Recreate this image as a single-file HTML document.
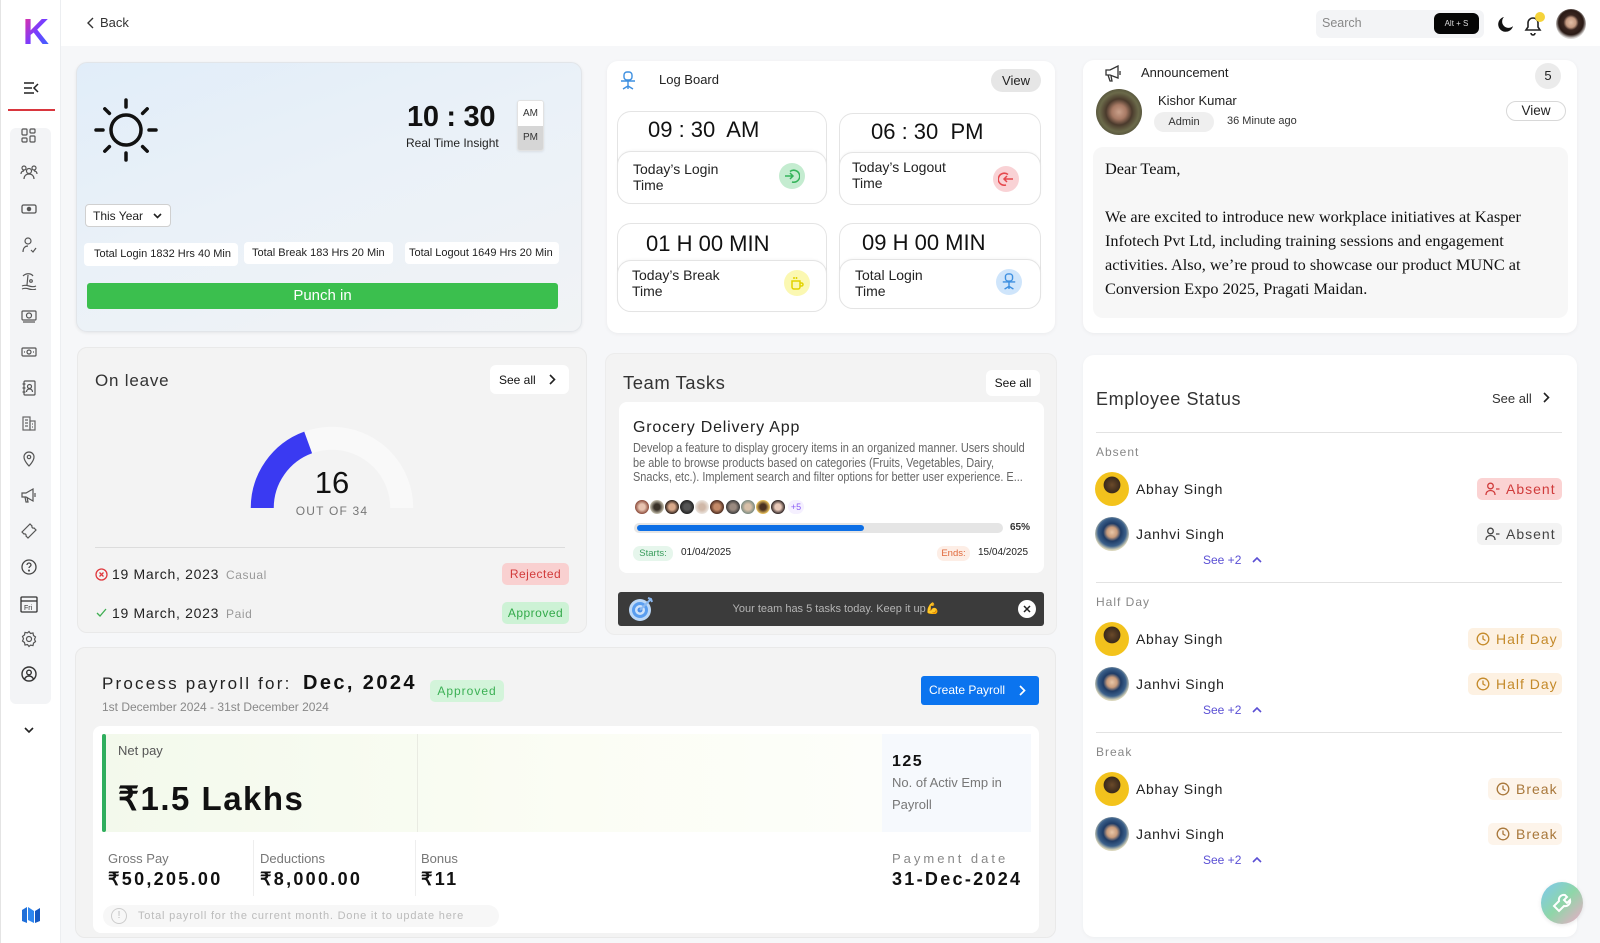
<!DOCTYPE html>
<html><head><meta charset="utf-8">
<style>
*{box-sizing:border-box;margin:0;padding:0}
body{width:1600px;height:943px;overflow:hidden;background:#f6f7f9;font-family:"Liberation Sans",sans-serif;color:#222;position:relative}
.a{position:absolute}
.t{position:absolute;white-space:nowrap;line-height:1}
.card{position:absolute;border-radius:11px}
.ic{position:absolute;left:20px;width:18px;height:18px}
.tile{position:absolute;background:#fff;border:1px solid #e4e4e4;border-radius:14px}
.tile .in{position:absolute;left:-1px;right:-1px;bottom:-1px;border:1px solid #e4e4e4;border-radius:14px;background:#fff;box-shadow:0 -1px 2px rgba(0,0,0,.03)}
.circ{position:absolute;width:26px;height:26px;border-radius:50%}
.pill{position:absolute;border-radius:5px;font-size:12px;text-align:center;letter-spacing:.5px}
.av{position:absolute;width:34px;height:34px;border-radius:50%;overflow:hidden}
.abhay{background:radial-gradient(circle at 50% 38%,#6b4a2a 0,#3a2a1c 30%,#f2c21d 32%,#f4c41c 100%)}
.janhvi{background:radial-gradient(circle at 50% 45%,#e9c7a8 0,#c99c7c 20%,#1f3c66 35%,#3a5f8a 55%,#d8d4b8 70%,#eef0f2 100%)}
.nm{position:absolute;font-size:14px;letter-spacing:.7px;color:#222;line-height:1}
.lbl{position:absolute;font-size:12px;letter-spacing:1px;color:#888;line-height:1}
.badge{position:absolute;height:22px;border-radius:5px;font-size:14px;letter-spacing:1px;line-height:22px;padding-left:8px}
.see{position:absolute;font-size:12px;color:#5a4fd4;line-height:1}
.div{position:absolute;height:1px;background:#e2e2e2}
</style></head><body>

<!-- Sidebar -->
<div class="a" style="left:0;top:0;width:61px;height:943px;background:#fff;border-right:1px solid #eceef1;border-left:1px solid #e4e4e4"></div>
<svg class="a" style="left:22px;top:15px" width="30" height="32" viewBox="0 0 30 32">
<defs><linearGradient id="kg" x1="0" y1="0" x2="1" y2="1"><stop offset="0" stop-color="#ff2d8a"/><stop offset=".5" stop-color="#7a3cff"/><stop offset="1" stop-color="#2f6bff"/></linearGradient></defs>
<text x="1" y="29" font-family="Liberation Sans" font-weight="bold" font-size="36" fill="url(#kg)">K</text></svg>
<svg class="a" style="left:23px;top:81px" width="17" height="14" viewBox="0 0 17 14" fill="none" stroke="#222" stroke-width="1.5"><path d="M1 2h10M1 7h8M1 12h10M15 3l-4 4 4 4"/></svg>
<div class="a" style="left:8px;top:109px;width:47px;height:2px;background:#d9363e"></div>
<div class="a" style="left:10px;top:128px;width:41px;height:576px;background:#f3f4f6;border-radius:6px"></div>

<svg class="ic" style="top:127px" viewBox="0 0 18 18" fill="none" stroke="#555" stroke-width="1.2"><rect x="2" y="2" width="5" height="6" rx="1"/><rect x="10" y="2" width="5" height="4" rx="1"/><rect x="2" y="11" width="5" height="4" rx="1"/><rect x="10" y="9" width="5" height="6" rx="1"/></svg>
<svg class="ic" style="top:163px" viewBox="0 0 18 18" fill="none" stroke="#555" stroke-width="1.2"><circle cx="9" cy="8" r="2.5"/><circle cx="4" cy="5" r="2"/><circle cx="14" cy="5" r="2"/><path d="M4 16c0-3 2-5 5-5s5 2 5 5M1 11c0-2 1-3 3-3M17 11c0-2-1-3-3-3"/></svg>
<svg class="ic" style="top:200px" viewBox="0 0 18 18" fill="none" stroke="#555" stroke-width="1.3"><rect x="2" y="5" width="14" height="8" rx="1.5"/><circle cx="9" cy="9" r="1.6" fill="#555"/></svg>
<svg class="ic" style="top:236px" viewBox="0 0 18 18" fill="none" stroke="#555" stroke-width="1.2"><circle cx="8" cy="5" r="3"/><path d="M3 16c0-4 2-6 5-6M11 14l2 2 3-4"/></svg>
<svg class="ic" style="top:272px" viewBox="0 0 18 18" fill="none" stroke="#555" stroke-width="1.2"><path d="M3 4c3-3 8-3 10 0M8 3l-1 10M2 14c2-1 4-1 7 0s5 1 7 0M2 17c2-1 4-1 7 0s5 1 7 0"/><circle cx="11" cy="9" r="1.3"/></svg>
<svg class="ic" style="top:307px" viewBox="0 0 18 18" fill="none" stroke="#555" stroke-width="1.2"><rect x="2" y="4" width="14" height="9" rx="1"/><circle cx="9" cy="8.5" r="2.5"/><path d="M3 15h12"/></svg>
<svg class="ic" style="top:343px" viewBox="0 0 18 18" fill="none" stroke="#555" stroke-width="1.2"><rect x="2" y="5" width="14" height="8" rx="1"/><circle cx="9" cy="9" r="2"/><path d="M4 9h1M13 9h1"/></svg>
<svg class="ic" style="top:379px" viewBox="0 0 18 18" fill="none" stroke="#555" stroke-width="1.2"><rect x="4" y="2" width="11" height="14" rx="1"/><circle cx="9.5" cy="7.5" r="2"/><path d="M6.5 13c0-2 1.5-3 3-3s3 1 3 3M2.5 5h3M2.5 9h3M2.5 13h3"/></svg>
<svg class="ic" style="top:414px" viewBox="0 0 18 18" fill="none" stroke="#666" stroke-width="1.2"><rect x="3" y="3" width="7" height="13"/><rect x="10" y="7" width="5" height="9"/><path d="M5 6h3M5 9h3M5 12h3M12 10h1M12 13h1"/></svg>
<svg class="ic" style="top:450px" viewBox="0 0 18 18" fill="none" stroke="#555" stroke-width="1.2"><path d="M9 16s-5-5-5-9a5 5 0 0110 0c0 4-5 9-5 9z"/><circle cx="9" cy="7" r="1.7"/></svg>
<svg class="ic" style="top:486px" viewBox="0 0 18 18" fill="none" stroke="#555" stroke-width="1.2"><path d="M2 7h4l7-4v12l-7-4H2zM5 11l1 5h2l-1-5M15 7v4"/></svg>
<svg class="ic" style="top:522px" viewBox="0 0 18 18" fill="none" stroke="#555" stroke-width="1.2"><path d="M2 10l8-8 2 2a1.5 1.5 0 002 2l2 2-8 8-2-2a1.5 1.5 0 00-2-2z"/></svg>
<svg class="ic" style="top:558px" viewBox="0 0 18 18" fill="none" stroke="#444" stroke-width="1.3"><circle cx="9" cy="9" r="7"/><path d="M7 7a2 2 0 114 0c0 1.5-2 1.5-2 3"/><circle cx="9" cy="12.6" r=".4" fill="#444"/></svg>
<svg class="ic" style="top:594px;width:20px;height:20px;left:19px" viewBox="0 0 20 20" fill="none" stroke="#333" stroke-width="1.3"><rect x="2" y="3" width="16" height="15" rx="1"/><path d="M2 7h16"/><text x="5" y="16" font-family="Liberation Sans" font-size="7" fill="#333" stroke="none">Fri</text></svg>
<svg class="ic" style="top:630px" viewBox="0 0 18 18" fill="none" stroke="#555" stroke-width="1.2"><circle cx="9" cy="9" r="2.5"/><path d="M9 1.5l1.5 2 2.5-.5.5 2.5 2 1.5-1 2.3 1 2.3-2 1.5-.5 2.5-2.5-.5L9 16.5l-1.5-2-2.5.5-.5-2.5-2-1.5 1-2.3-1-2.3 2-1.5.5-2.5 2.5.5z"/></svg>
<svg class="ic" style="top:665px" viewBox="0 0 18 18" fill="none" stroke="#333" stroke-width="1.4"><circle cx="9" cy="9" r="7"/><circle cx="9" cy="7.5" r="2.3"/><path d="M4.5 14c1-2 2.5-3 4.5-3s3.5 1 4.5 3"/></svg>
<svg class="a" style="left:24px;top:727px" width="10" height="7" viewBox="0 0 10 7" fill="none" stroke="#222" stroke-width="1.6"><path d="M1 1l4 4 4-4"/></svg>
<svg class="a" style="left:21px;top:906px" width="20" height="18" viewBox="0 0 20 18"><path d="M1 4l5-3v16l-5-2z" fill="#1f6fd9"/><path d="M7 1l6 4v12l-6-3z" fill="#2d86f0"/><path d="M14 5l5-3v13l-5 2z" fill="#1559c2"/></svg>

<!-- Header -->
<div class="a" style="left:61px;top:0;width:1539px;height:46px;background:#fff"></div>
<svg class="a" style="left:87px;top:17px" width="8" height="12" viewBox="0 0 8 12" fill="none" stroke="#333" stroke-width="1.4"><path d="M6 1L1 6l5 5"/></svg>
<div class="t" style="left:100px;top:16px;font-size:13px;color:#333">Back</div>
<div class="a" style="left:1316px;top:10px;width:168px;height:28px;background:#f3f4f6;border-radius:6px"></div>
<div class="t" style="left:1322px;top:17px;font-size:12.5px;color:#888">Search</div>
<div class="a" style="left:1434px;top:13px;width:45px;height:21px;background:#050505;border-radius:6px;color:#ddd;font-size:8px;line-height:21px;text-align:center">Alt + S</div>
<svg class="a" style="left:1497px;top:16px" width="17" height="17" viewBox="0 0 17 17"><path d="M7 1a7.5 7.5 0 109 9A6 6 0 017 1z" fill="#111"/></svg>
<svg class="a" style="left:1523px;top:14px" width="20" height="22" viewBox="0 0 20 22" fill="none" stroke="#222" stroke-width="1.6"><path d="M3 16h14l-2-3V9a5 5 0 00-10 0v4zM8 19a2 2 0 004 0"/></svg>
<div class="a" style="left:1535px;top:12px;width:10px;height:10px;border-radius:50%;background:#f5d33a"></div>
<div class="a" style="left:1556px;top:9px;width:30px;height:30px;border-radius:50%;background:radial-gradient(circle at 50% 45%,#e3bfa6 0,#c59a82 22%,#3a2620 34%,#2a1a15 55%,#d9d6d4 70%,#e9e7e6 100%)"></div>

<!-- Card 1 Punch -->
<div class="card" style="left:76px;top:62px;width:506px;height:270px;background:linear-gradient(160deg,#e1edf9 0%,#eaf1f8 45%,#f1f3f5 100%);border:1px solid #e2e5e9;box-shadow:0 1px 3px rgba(0,0,0,.07)"></div>
<svg class="a" style="left:92px;top:96px" width="68" height="68" viewBox="0 0 68 68" fill="none" stroke="#111" stroke-width="3.5" stroke-linecap="round">
<circle cx="34" cy="34" r="15"/>
<path d="M34 4v7M34 57v7M4 34h7M57 34h7M12.8 12.8l4.6 4.6M50.6 50.6l4.6 4.6M12.8 55.2l4.6-4.6M50.6 17.4l4.6-4.6"/></svg>
<div class="t" style="left:407px;top:103px;font-size:29px;font-weight:bold;color:#111;letter-spacing:-.3px">10 : 30</div>
<div class="t" style="left:406px;top:137px;font-size:12px;color:#222">Real Time Insight</div>
<div class="a" style="left:517px;top:100px;width:27px;height:51px;border-radius:3px;border:1px solid #e2e2e2;overflow:hidden;box-shadow:0 1px 2px rgba(0,0,0,.08)">
<div style="height:25px;background:#fff;font-size:10px;line-height:25px;text-align:center;color:#333">AM</div>
<div style="height:26px;background:#d6d6d6;font-size:10px;line-height:24px;text-align:center;color:#333">PM</div></div>
<div class="a" style="left:85px;top:204px;width:86px;height:23px;background:#fff;border:1px solid #d0d0d0;border-radius:4px"></div>
<div class="t" style="left:93px;top:210px;font-size:12px;color:#222">This Year</div>
<svg class="a" style="left:153px;top:213px" width="9" height="6" viewBox="0 0 9 6" fill="none" stroke="#222" stroke-width="1.6"><path d="M1 1l3.5 3.5L8 1"/></svg>
<div class="a" style="left:84px;top:243px;width:154px;height:23px;background:#fff;border-radius:4px;font-size:11px;line-height:23px;padding-left:10px">Total Login 1832 Hrs 40 Min</div>
<div class="a" style="left:244px;top:242px;width:149px;height:22px;background:#fff;border-radius:4px;font-size:11px;line-height:22px;padding-left:8px">Total Break 183 Hrs 20 Min</div>
<div class="a" style="left:405px;top:242px;width:154px;height:22px;background:#fff;border-radius:4px;font-size:11px;line-height:22px;padding-left:4px">Total Logout 1649 Hrs 20 Min</div>
<div class="a" style="left:87px;top:283px;width:471px;height:26px;background:#3bbf4e;border-radius:3px;color:#fff;font-size:15px;line-height:26px;text-align:center">Punch in</div>

<!-- Card 2 Log board -->
<div class="card" style="left:607px;top:61px;width:448px;height:272px;background:#fff;box-shadow:0 1px 4px rgba(0,0,0,.05)"></div>
<svg class="a" style="left:619px;top:71px" width="18" height="19" viewBox="0 0 18 19" fill="none" stroke="#3d8fe0" stroke-width="1.4"><rect x="5" y="1" width="8" height="8" rx="3"/><path d="M2 10h14M9 10v5M4 18l5-3 5 3M9 15v3"/></svg>
<div class="t" style="left:659px;top:73px;font-size:13px;color:#222">Log Board</div>
<div class="a" style="left:991px;top:69px;width:50px;height:23px;background:#e6e6e6;border-radius:12px;font-size:13px;line-height:23px;text-align:center">View</div>

<div class="tile" style="left:617px;top:111px;width:210px;height:93px"><div class="in" style="height:53px"></div></div>
<div class="t" style="left:648px;top:119px;font-size:22px;color:#111;white-space:pre">09 : 30  AM</div>
<div class="a" style="left:633px;top:161px;font-size:14px;line-height:16px;color:#222">Today’s Login<br>Time</div>
<div class="circ" style="left:779px;top:163px;background:#c4ecd0"></div>
<svg class="a" style="left:784px;top:168px" width="16" height="16" viewBox="0 0 16 16" fill="none" stroke="#35b45a" stroke-width="1.5"><path d="M6 3.5A6 6 0 118 14M1 8h8M6 5l3 3-3 3"/></svg>

<div class="tile" style="left:839px;top:113px;width:202px;height:92px"><div class="in" style="height:53px"></div></div>
<div class="t" style="left:871px;top:121px;font-size:22px;color:#111;white-space:pre">06 : 30  PM</div>
<div class="a" style="left:852px;top:160px;font-size:14px;line-height:15.5px;color:#222">Today’s Logout<br>Time</div>
<div class="circ" style="left:993px;top:166px;background:#f9d2d5"></div>
<svg class="a" style="left:998px;top:171px" width="16" height="16" viewBox="0 0 16 16" fill="none" stroke="#e5484d" stroke-width="1.5"><path d="M10 3.5A6 6 0 108 14M15 8H6M9 5L6 8l3 3"/></svg>

<div class="tile" style="left:617px;top:223px;width:210px;height:89px"><div class="in" style="height:52px"></div></div>
<div class="t" style="left:646px;top:233px;font-size:22px;color:#111">01 H 00 MIN</div>
<div class="a" style="left:632px;top:267px;font-size:14px;line-height:16px;color:#222">Today’s Break<br>Time</div>
<div class="circ" style="left:784px;top:270px;background:#fbf8b2"></div>
<svg class="a" style="left:789px;top:275px" width="16" height="16" viewBox="0 0 16 16" fill="none" stroke="#e2d200" stroke-width="1.5"><path d="M3 6h8v6a2 2 0 01-2 2H5a2 2 0 01-2-2zM11 8h1.5a1.5 1.5 0 010 3H11M5 2v2M7.5 2v2"/></svg>

<div class="tile" style="left:839px;top:223px;width:202px;height:86px"><div class="in" style="height:50px"></div></div>
<div class="t" style="left:862px;top:232px;font-size:22px;color:#111">09 H 00 MIN</div>
<div class="a" style="left:855px;top:267px;font-size:14px;line-height:16px;color:#222">Total Login<br>Time</div>
<div class="circ" style="left:996px;top:269px;background:#cfe5fb"></div>
<svg class="a" style="left:1001px;top:273px" width="16" height="17" viewBox="0 0 18 19" fill="none" stroke="#3d8fe0" stroke-width="1.6"><rect x="5" y="1" width="8" height="8" rx="3"/><path d="M2 10h14M9 10v5M4 18l5-3 5 3M9 15v3"/></svg>

<!-- Card 3 Announcement -->
<div class="card" style="left:1083px;top:60px;width:494px;height:273px;background:#fff;box-shadow:0 1px 4px rgba(0,0,0,.05)"></div>
<svg class="a" style="left:1104px;top:65px" width="19" height="17" viewBox="0 0 19 17" fill="none" stroke="#333" stroke-width="1.3"><path d="M2 5h4l8-4v12l-8-3H2zM4 10l2 6h2l-1-5M16 6v4"/></svg>
<div class="t" style="left:1141px;top:66px;font-size:13px;color:#222">Announcement</div>
<div class="a" style="left:1535px;top:63px;width:26px;height:26px;border-radius:50%;background:#ebebeb;font-size:13px;line-height:26px;text-align:center">5</div>
<div class="a" style="left:1096px;top:89px;width:46px;height:46px;border-radius:50%;background:radial-gradient(circle at 50% 50%,#c9a08a 0,#a87a65 22%,#4a3a2c 40%,#6b6a4a 60%,#2e2a22 100%)"></div>
<div class="t" style="left:1158px;top:94px;font-size:13px;color:#222">Kishor Kumar</div>
<div class="a" style="left:1154px;top:112px;width:60px;height:20px;border-radius:10px;background:#efefef;font-size:11px;line-height:20px;text-align:center;color:#333">Admin</div>
<div class="t" style="left:1227px;top:116px;font-size:11px;color:#333">36 Minute ago</div>
<div class="a" style="left:1506px;top:101px;width:60px;height:20px;border:1px solid #d8d8d8;border-radius:10px;font-size:13.5px;line-height:18px;text-align:center">View</div>
<div class="a" style="left:1093px;top:147px;width:475px;height:171px;background:#f7f7f7;border-radius:10px"></div>
<div class="a" style="left:1105px;top:157px;font-family:'Liberation Serif',serif;font-size:16.3px;line-height:24px;color:#111;white-space:nowrap">Dear Team,<br><br>We are excited to introduce new workplace initiatives at Kasper<br>Infotech Pvt Ltd, including training sessions and engagement<br>activities. Also, we’re proud to showcase our product MUNC at<br>Conversion Expo 2025, Pragati Maidan.</div>

<!-- On leave -->
<div class="card" style="left:77px;top:347px;width:510px;height:286px;background:#f3f3f3;border:1px solid #e9e9e9;border-radius:10px"></div>
<div class="t" style="left:95px;top:372px;font-size:17px;letter-spacing:.8px;color:#333">On leave</div>
<div class="a" style="left:490px;top:365px;width:79px;height:29px;background:#fff;border-radius:6px"></div>
<div class="t" style="left:499px;top:374px;font-size:12px;color:#111">See all</div>
<svg class="a" style="left:549px;top:374px" width="7" height="11" viewBox="0 0 7 11" fill="none" stroke="#222" stroke-width="1.6"><path d="M1 1l4.5 4.5L1 10"/></svg>
<svg class="a" style="left:240px;top:420px" width="184" height="92" viewBox="240 420 184 92">
<path d="M262.25 508 A69.75 69.75 0 0 1 401.75 508" fill="none" stroke="#f9f9f9" stroke-width="23"/>
<path d="M262.25 508 A69.75 69.75 0 0 1 308.15 442.45" fill="none" stroke="#3a3af2" stroke-width="23"/></svg>
<div class="t" style="left:282px;top:467px;width:100px;text-align:center;font-size:31px;color:#111">16</div>
<div class="t" style="left:282px;top:505px;width:100px;text-align:center;font-size:12px;letter-spacing:1.2px;color:#777">OUT OF 34</div>
<div class="div" style="left:95px;top:547px;width:470px;background:#dcdcdc"></div>
<svg class="a" style="left:95px;top:568px" width="13" height="13" viewBox="0 0 13 13" fill="none" stroke="#e0393e" stroke-width="1.3"><circle cx="6.5" cy="6.5" r="5.5"/><path d="M4.5 4.5l4 4M8.5 4.5l-4 4"/></svg>
<div class="t" style="left:112px;top:567px;font-size:14px;letter-spacing:.7px;color:#222">19 March, 2023</div>
<div class="t" style="left:226px;top:569px;font-size:12px;letter-spacing:.6px;color:#999">Casual</div>
<div class="pill" style="left:502px;top:563px;width:67px;height:22px;line-height:22px;background:#f9d0d0;color:#d23a3a">Rejected</div>
<svg class="a" style="left:96px;top:608px" width="11" height="10" viewBox="0 0 11 10" fill="none" stroke="#3fae52" stroke-width="1.3"><path d="M1 5l3 3 6-7"/></svg>
<div class="t" style="left:112px;top:606px;font-size:14px;letter-spacing:.7px;color:#222">19 March, 2023</div>
<div class="t" style="left:226px;top:608px;font-size:12px;letter-spacing:.6px;color:#999">Paid</div>
<div class="pill" style="left:502px;top:602px;width:67px;height:22px;line-height:22px;background:#cdf2d5;color:#33aa4a">Approved</div>

<!-- Team tasks -->
<div class="card" style="left:605px;top:353px;width:452px;height:282px;background:#f3f3f3;border:1px solid #ececec;border-radius:10px"></div>
<div class="t" style="left:623px;top:374px;font-size:18.5px;letter-spacing:.5px;color:#333">Team Tasks</div>
<div class="a" style="left:986px;top:370px;width:54px;height:26px;background:#fff;border-radius:6px;font-size:12px;line-height:26px;text-align:center;color:#111">See all</div>
<div class="a" style="left:619px;top:402px;width:425px;height:171px;background:#fff;border-radius:8px"></div>
<div class="t" style="left:633px;top:420px;font-size:16px;letter-spacing:.8px;color:#222">Grocery Delivery App</div>
<div class="a" style="left:633px;top:441px;font-size:12.8px;line-height:14.6px;color:#666;white-space:nowrap;transform:scaleX(.855);transform-origin:0 0">Develop a feature to display grocery items in an organized manner. Users should<br>be able to browse products based on categories (Fruits, Vegetables, Dairy,<br>Snacks, etc.). Implement search and filter options for better user experience. E...</div>
<div class="a" style="left:634px;top:499px;width:16px;height:16px;border-radius:50%;border:1px solid #fff;background:radial-gradient(#e8c3b0 30%,#8a4a3a 70%)"></div>
<div class="a" style="left:649px;top:499px;width:16px;height:16px;border-radius:50%;border:1px solid #fff;background:radial-gradient(#3a3228 30%,#c8c2b0 70%)"></div>
<div class="a" style="left:664px;top:499px;width:16px;height:16px;border-radius:50%;border:1px solid #fff;background:radial-gradient(#d9a98a 30%,#2a1e18 70%)"></div>
<div class="a" style="left:679px;top:499px;width:16px;height:16px;border-radius:50%;border:1px solid #fff;background:radial-gradient(#555 30%,#222 70%)"></div>
<div class="a" style="left:694px;top:499px;width:16px;height:16px;border-radius:50%;border:1px solid #fff;background:radial-gradient(#d0b8a8 30%,#ece6e0 70%)"></div>
<div class="a" style="left:709px;top:499px;width:16px;height:16px;border-radius:50%;border:1px solid #fff;background:radial-gradient(#c48a68 30%,#4a2a1e 70%)"></div>
<div class="a" style="left:725px;top:499px;width:16px;height:16px;border-radius:50%;border:1px solid #fff;background:radial-gradient(#9a8a80 30%,#3a3a3a 70%)"></div>
<div class="a" style="left:740px;top:499px;width:16px;height:16px;border-radius:50%;border:1px solid #fff;background:radial-gradient(#d8c0a8 30%,#7a8a80 70%)"></div>
<div class="a" style="left:755px;top:499px;width:16px;height:16px;border-radius:50%;border:1px solid #fff;background:radial-gradient(#4a3020 30%,#f0c860 70%)"></div>
<div class="a" style="left:770px;top:499px;width:16px;height:16px;border-radius:50%;border:1px solid #fff;background:radial-gradient(#e8c8b8 30%,#2a2020 70%)"></div>
<div class="a" style="left:788px;top:500px;width:16px;height:14px;border-radius:7px;background:#f5f0ff;font-size:9px;line-height:14px;text-align:center;color:#8a5cf6">+5</div>
<div class="a" style="left:634px;top:523px;width:369px;height:10px;background:#e5e5e5;border-radius:5px"></div>
<div class="a" style="left:637px;top:525px;width:227px;height:6px;background:#0d6fe6;border-radius:3px"></div>
<div class="t" style="left:1010px;top:523px;font-size:10px;font-weight:bold;color:#333">65%</div>
<div class="a" style="left:633px;top:546px;width:40px;height:15px;border-radius:7px;background:#e6f6ec;font-size:9.5px;line-height:15px;text-align:center;color:#3a9d5d">Starts:</div>
<div class="t" style="left:681px;top:548px;font-size:10px;color:#222">01/04/2025</div>
<div class="a" style="left:937px;top:546px;width:33px;height:15px;border-radius:7px;background:#fdeee6;font-size:9.5px;line-height:15px;text-align:center;color:#e0683a">Ends:</div>
<div class="t" style="left:978px;top:548px;font-size:10px;color:#222">15/04/2025</div>
<div class="a" style="left:618px;top:592px;width:426px;height:34px;background:#3b3b3b;border-radius:3px"></div>
<svg class="a" style="left:627px;top:595px" width="28" height="28" viewBox="0 0 28 28"><circle cx="13" cy="15" r="11" fill="#bcd8f7"/><circle cx="13" cy="15" r="8" fill="#5a9ef0"/><circle cx="13" cy="15" r="5" fill="#cfe3fa"/><circle cx="13" cy="15" r="2.5" fill="#4a8ee8"/><path d="M13 15L24 4M21 3l3 1 1 3" stroke="#8ab8f0" stroke-width="2" fill="none"/></svg>
<div class="t" style="left:618px;top:604px;width:436px;text-align:center;font-size:11px;color:#b5b5b5">Your team has 5 tasks today. Keep it up💪</div>
<div class="a" style="left:1018px;top:600px;width:18px;height:18px;border-radius:50%;background:#fff"></div>
<svg class="a" style="left:1023px;top:605px" width="8" height="8" viewBox="0 0 8 8" stroke="#222" stroke-width="1.5"><path d="M1 1l6 6M7 1L1 7"/></svg>

<!-- Payroll -->
<div class="card" style="left:75px;top:647px;width:981px;height:291px;background:#f3f3f3;border:1px solid #e9e9e9;border-radius:10px"></div>
<div class="t" style="left:102px;top:675px;font-size:17px;letter-spacing:2.2px;color:#222">Process payroll for:</div>
<div class="t" style="left:303px;top:673px;font-size:20px;font-weight:bold;letter-spacing:2.4px;color:#111">Dec, 2024</div>
<div class="pill" style="left:430px;top:680px;width:74px;height:22px;line-height:22px;background:#d3f4da;color:#3bb054;letter-spacing:1px">Approved</div>
<div class="t" style="left:102px;top:701px;font-size:12px;color:#888">1st December 2024 - 31st December 2024</div>
<div class="a" style="left:921px;top:676px;width:118px;height:29px;background:#0b74ef;border-radius:3px"></div>
<div class="t" style="left:929px;top:684px;font-size:12px;color:#fff">Create Payroll</div>
<svg class="a" style="left:1019px;top:685px" width="7" height="11" viewBox="0 0 7 11" fill="none" stroke="#fff" stroke-width="1.7"><path d="M1 1l4.5 4.5L1 10"/></svg>
<div class="a" style="left:93px;top:726px;width:946px;height:207px;background:#fff;border-radius:8px"></div>
<div class="a" style="left:102px;top:734px;width:780px;height:98px;background:linear-gradient(90deg,#f3f9ec,#fbfdf4 60%,#fdfefa)"></div>
<div class="a" style="left:882px;top:734px;width:149px;height:98px;background:#f6f9fd"></div>
<div class="a" style="left:102px;top:734px;width:4px;height:98px;background:#2fae5e;border-radius:2px"></div>
<div class="a" style="left:417px;top:734px;width:1px;height:98px;background:#e9ebe2"></div>
<div class="t" style="left:118px;top:744px;font-size:13px;color:#555">Net pay</div>
<div class="t" style="left:118px;top:782px;font-size:33px;font-weight:bold;letter-spacing:1.5px;color:#111">₹1.5 Lakhs</div>
<div class="t" style="left:892px;top:754px;font-size:16px;font-weight:bold;letter-spacing:1.5px;color:#111">125</div>
<div class="a" style="left:892px;top:772px;font-size:13px;line-height:22px;color:#777;white-space:nowrap">No. of Activ Emp in<br>Payroll</div>
<div class="a" style="left:253px;top:840px;width:1px;height:56px;background:#eee"></div>
<div class="a" style="left:415px;top:840px;width:1px;height:56px;background:#eee"></div>
<div class="t" style="left:108px;top:852px;font-size:13px;color:#777">Gross Pay</div>
<div class="t" style="left:108px;top:870px;font-size:18px;font-weight:bold;letter-spacing:2.3px;color:#111">₹50,205.00</div>
<div class="t" style="left:260px;top:852px;font-size:13px;color:#777">Deductions</div>
<div class="t" style="left:260px;top:870px;font-size:18px;font-weight:bold;letter-spacing:2.3px;color:#111">₹8,000.00</div>
<div class="t" style="left:421px;top:852px;font-size:13px;color:#777">Bonus</div>
<div class="t" style="left:421px;top:870px;font-size:18px;font-weight:bold;letter-spacing:2.3px;color:#111">₹11</div>
<div class="t" style="left:892px;top:852px;font-size:13px;letter-spacing:3px;color:#888">Payment date</div>
<div class="t" style="left:892px;top:870px;font-size:18px;font-weight:bold;letter-spacing:2.3px;color:#111">31-Dec-2024</div>
<div class="a" style="left:103px;top:905px;width:396px;height:22px;background:#f7f7f7;border-radius:11px"></div>
<div class="a" style="left:111px;top:908px;width:16px;height:16px;border-radius:50%;border:1.3px solid #ccc;font-size:10px;line-height:14px;text-align:center;color:#bbb">!</div>
<div class="t" style="left:138px;top:911px;font-size:11px;letter-spacing:.8px;color:#bbb">Total payroll for the current month. Done it to update here</div>

<!-- Employee Status -->
<div class="card" style="left:1083px;top:355px;width:494px;height:582px;background:#fff;box-shadow:0 1px 4px rgba(0,0,0,.04)"></div>
<div class="t" style="left:1096px;top:390px;font-size:18px;letter-spacing:.6px;color:#333">Employee Status</div>
<div class="t" style="left:1492px;top:392px;font-size:13px;color:#333">See all</div>
<svg class="a" style="left:1543px;top:392px" width="7" height="11" viewBox="0 0 7 11" fill="none" stroke="#222" stroke-width="1.6"><path d="M1 1l4.5 4.5L1 10"/></svg>
<div class="div" style="left:1096px;top:432px;width:466px"></div>

<div class="lbl" style="left:1096px;top:446px">Absent</div>
<div class="av abhay" style="left:1095px;top:472px"></div>
<div class="nm" style="left:1136px;top:482px">Abhay Singh</div>
<div class="badge" style="left:1477px;top:478px;width:85px;background:#fbd3d3;color:#d03b3b">
<svg style="vertical-align:-2px;margin-right:6px" width="15" height="14" viewBox="0 0 15 14" fill="none" stroke="#d03b3b" stroke-width="1.3"><circle cx="5.5" cy="4" r="2.8"/><path d="M1 13c0-3 2-4.5 4.5-4.5S10 10 10 13M11 7h3.5"/></svg>Absent</div>
<div class="av janhvi" style="left:1095px;top:517px"></div>
<div class="nm" style="left:1136px;top:527px">Janhvi Singh</div>
<div class="badge" style="left:1477px;top:523px;width:85px;background:#f3f3f3;color:#444">
<svg style="vertical-align:-2px;margin-right:6px" width="15" height="14" viewBox="0 0 15 14" fill="none" stroke="#444" stroke-width="1.3"><circle cx="5.5" cy="4" r="2.8"/><path d="M1 13c0-3 2-4.5 4.5-4.5S10 10 10 13M11 7h3.5"/></svg>Absent</div>
<div class="see" style="left:1203px;top:554px">See +2</div>
<svg class="a" style="left:1252px;top:556px" width="10" height="7" viewBox="0 0 10 7" fill="none" stroke="#5a4fd4" stroke-width="1.6"><path d="M1 6l4-4 4 4"/></svg>
<div class="div" style="left:1096px;top:582px;width:466px"></div>

<div class="lbl" style="left:1096px;top:596px">Half Day</div>
<div class="av abhay" style="left:1095px;top:622px"></div>
<div class="nm" style="left:1136px;top:632px">Abhay Singh</div>
<div class="badge" style="left:1468px;top:628px;width:94px;background:#fdf1e2;color:#c48a2a">
<svg style="vertical-align:-2px;margin-right:6px" width="14" height="14" viewBox="0 0 14 14" fill="none" stroke="#c48a2a" stroke-width="1.3"><circle cx="7" cy="7" r="5.8"/><path d="M7 3.5V7l2.5 1.5"/></svg>Half Day</div>
<div class="av janhvi" style="left:1095px;top:667px"></div>
<div class="nm" style="left:1136px;top:677px">Janhvi Singh</div>
<div class="badge" style="left:1468px;top:673px;width:94px;background:#fdf1e2;color:#c48a2a">
<svg style="vertical-align:-2px;margin-right:6px" width="14" height="14" viewBox="0 0 14 14" fill="none" stroke="#c48a2a" stroke-width="1.3"><circle cx="7" cy="7" r="5.8"/><path d="M7 3.5V7l2.5 1.5"/></svg>Half Day</div>
<div class="see" style="left:1203px;top:704px">See +2</div>
<svg class="a" style="left:1252px;top:706px" width="10" height="7" viewBox="0 0 10 7" fill="none" stroke="#5a4fd4" stroke-width="1.6"><path d="M1 6l4-4 4 4"/></svg>
<div class="div" style="left:1096px;top:732px;width:466px"></div>

<div class="lbl" style="left:1096px;top:746px">Break</div>
<div class="av abhay" style="left:1095px;top:772px"></div>
<div class="nm" style="left:1136px;top:782px">Abhay Singh</div>
<div class="badge" style="left:1488px;top:778px;width:74px;background:#fdf4ea;color:#a8773a">
<svg style="vertical-align:-2px;margin-right:6px" width="14" height="14" viewBox="0 0 14 14" fill="none" stroke="#a8773a" stroke-width="1.3"><circle cx="7" cy="7" r="5.8"/><path d="M7 3.5V7l2.5 1.5"/></svg>Break</div>
<div class="av janhvi" style="left:1095px;top:817px"></div>
<div class="nm" style="left:1136px;top:827px">Janhvi Singh</div>
<div class="badge" style="left:1488px;top:823px;width:74px;background:#fdf4ea;color:#a8773a">
<svg style="vertical-align:-2px;margin-right:6px" width="14" height="14" viewBox="0 0 14 14" fill="none" stroke="#a8773a" stroke-width="1.3"><circle cx="7" cy="7" r="5.8"/><path d="M7 3.5V7l2.5 1.5"/></svg>Break</div>
<div class="see" style="left:1203px;top:854px">See +2</div>
<svg class="a" style="left:1252px;top:856px" width="10" height="7" viewBox="0 0 10 7" fill="none" stroke="#5a4fd4" stroke-width="1.6"><path d="M1 6l4-4 4 4"/></svg>

<div class="a" style="left:1541px;top:882px;width:42px;height:42px;border-radius:50%;background:linear-gradient(135deg,#7cc8f0 0%,#8fd6a8 50%,#f0a8c8 100%);box-shadow:0 1px 4px rgba(0,0,0,.1)"></div>
<svg class="a" style="left:1551px;top:892px" width="22" height="22" viewBox="0 0 22 22" fill="none" stroke="#fff" stroke-width="2" stroke-linecap="round"><path d="M14 3a5 5 0 00-6 6L3 14l5 5 5-5a5 5 0 006-6l-3 3-3-3 3-3z"/></svg>

</body></html>
